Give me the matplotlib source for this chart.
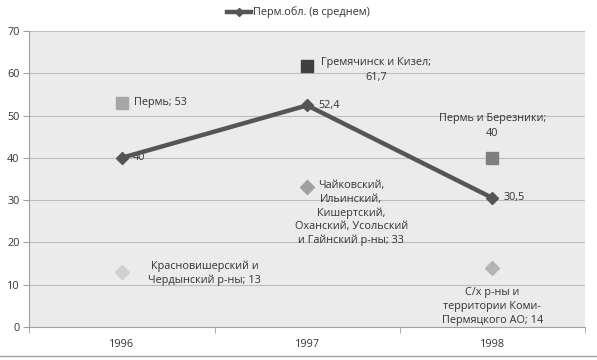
import numpy as np
import matplotlib.pyplot as plt
from matplotlib.lines import Line2D

plt.rcParams['font.family'] = ['Open Sans', 'DejaVu Sans']

years = ['1996', '1997', '1998']
avg = [40, 52.4, 30.5]
avg_labels = ['40', '52,4', '30,5']

# high points (squares)
hi_vals = [53, 61.7, 40]
hi_labels = ['Пермь; 53', 'Гремячинск и Кизел;\n61,7', 'Пермь и Березники;\n40']
hi_colors = ['#a6a6a6', '#404040', '#7f7f7f']

# low points (diamonds)
lo_vals = [13, 33, 14]
lo_labels = ['Красновишерский и\nЧердынский р-ны; 13',
             'Чайковский,\nИльинский,\nКишертский,\nОханский, Усольский\nи Гайнский р-ны; 33',
             'С/х р-ны и\nтерритории Коми-\nПермяцкого АО; 14']
lo_colors = ['#d0d0d0', '#a0a0a0', '#b4b4b4']

fig = plt.figure(figsize=(5.97, 3.60), dpi=100)
ax = fig.add_axes([0.049, 0.092, 0.931, 0.822])
ax.set_facecolor('#ebebeb')

x = np.arange(len(years))
ax.plot(x, avg, color='#555555', lw=3.2, marker='D', ms=6.5, zorder=4)
for i in range(3):
    ax.plot(x[i], hi_vals[i], marker='s', ms=9, color=hi_colors[i], ls='none', zorder=3)
    ax.plot(x[i], lo_vals[i], marker='D', ms=7, color=lo_colors[i], ls='none', zorder=3)

fs = 7.8
tc = '#333333'
for i in range(3):
    ax.annotate(avg_labels[i], (x[i], avg[i]), xytext=(11, 0), textcoords='offset pixels',
                ha='left', va='center', fontsize=fs, color=tc)

ax.annotate(hi_labels[0], (x[0], hi_vals[0]), xytext=(12, 0), textcoords='offset pixels',
            ha='left', va='center', fontsize=fs, color=tc)
ax.annotate(hi_labels[1], (x[1], hi_vals[1]), xytext=(69, -4), textcoords='offset pixels',
            ha='center', va='center', fontsize=fs, color=tc, linespacing=1.45)
ax.annotate(hi_labels[2], (x[2], hi_vals[2]), xytext=(0, 19), textcoords='offset pixels',
            ha='center', va='bottom', fontsize=fs, color=tc, linespacing=1.45)

ax.annotate(lo_labels[0], (x[0], lo_vals[0]), xytext=(83, -1), textcoords='offset pixels',
            ha='center', va='center', fontsize=fs, color=tc, linespacing=1.3)
ax.annotate(lo_labels[1], (x[1], lo_vals[1]), xytext=(44, 7), textcoords='offset pixels',
            ha='center', va='top', fontsize=fs, color=tc, linespacing=1.3)
ax.annotate(lo_labels[2], (x[2], lo_vals[2]), xytext=(0, -19), textcoords='offset pixels',
            ha='center', va='top', fontsize=fs, color=tc, linespacing=1.4)

ax.set_xlim(-0.5, 2.5)
ax.set_ylim(0, 70)
ax.set_yticks(range(0, 71, 10))
ax.set_xticks(x)
ax.set_xticklabels(years)
ax.set_xticks([-0.5, 0.5, 1.5, 2.5], minor=True)
ax.tick_params(axis='x', which='major', length=0, pad=9, labelsize=fs, labelcolor=tc)
ax.tick_params(axis='x', which='minor', length=4, color='#a0a0a0', direction='out')
ax.tick_params(axis='y', length=4, color='#a0a0a0', labelsize=fs, labelcolor=tc, pad=3)
ax.grid(axis='y', color='#bdbdbd', lw=0.8)
ax.set_axisbelow(True)
for s in ['top', 'right']:
    ax.spines[s].set_visible(False)
ax.spines['left'].set_color('#a0a0a0')
ax.spines['bottom'].set_color('#a0a0a0')

handle = Line2D([], [], color='#555555', lw=3.2, marker='D', ms=4.5)
fig.legend([handle], ['Перм.обл. (в среднем)'], loc='center', bbox_to_anchor=(0.5, 0.965),
           frameon=False, fontsize=fs, handlelength=2.2, handletextpad=0.2, labelcolor=tc)

fig.add_artist(Line2D([0, 1], [0.01, 0.01], color='#a0a0a0', lw=1, transform=fig.transFigure))

fig.savefig('out.png', dpi=100)
